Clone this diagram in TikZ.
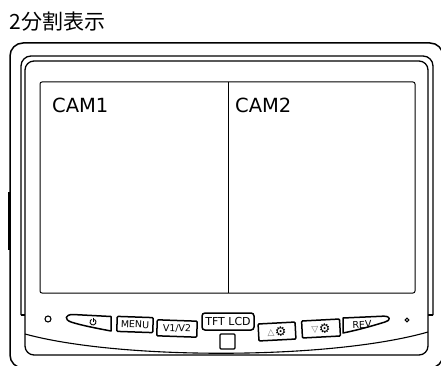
\documentclass[tikz,border=0pt]{standalone}
\usepackage{fontspec}
\setmainfont{DejaVu Sans}
\newfontfamily\jpfont{Noto Sans CJK JP}
\begin{document}
\begin{tikzpicture}[x=1pt,y=-1pt,
  frame/.style={line width=1.3pt, line join=round},
  btn/.style={draw, line width=1.5pt, rounded corners=1pt, inner sep=0pt,
    font=\fontsize{9.5}{9.5}\selectfont},
  lbl/.style={inner sep=0pt},
  camtxt/.style={inner sep=0pt, anchor=base west, font=\fontsize{19.5}{19.5}\selectfont}]
\useasboundingbox (0,0) rectangle (441,366);
\clip (0,0) rectangle (441,366);
% title
\node[lbl, anchor=west, font=\jpfont\fontsize{21}{21}\selectfont] (title) at (9.5,21.5) {2分割表示};
% outer body
\draw[frame, line width=1.5pt, rounded corners=13pt] (10,43) rectangle (443,368);
\draw[line width=2.6pt] (9,192) -- (9,250);
% back layer of bezel
\draw[frame, rounded corners=10pt] (21,315) -- (21,56) -- (433,56) -- (433,315);
\draw[frame] (21,315) -- (25,315);
\draw[frame] (433,315) -- (428,315);
% bezel front
\draw[frame, fill=white, rounded corners=9pt] (25,61) rectangle (428,355);
% screen
\draw[line width=1pt, rounded corners=2pt] (40,82) rectangle (415,293);
\draw[line width=1pt] (228,82) -- (228,293);
\node[camtxt] (cam1) at (52,112.5) {CAM1};
\node[camtxt] (cam2) at (235,112.5) {CAM2};
% lower curve of bezel
\draw[line width=1.1pt] (25,334) .. controls (120,360) and (330,360) .. (428,332);
% leds
\draw[line width=1.1pt] (48,319) circle[radius=3];
\draw[line width=1.1pt] (407,320) circle[radius=1.8];
% power button
\draw[line width=1.5pt, line join=round] (111,316.5) -- (111,331)
  .. controls (95,328) and (80,325) .. (71,322)
  .. controls (64,319.5) and (65,314.5) .. (73,314.5) -- cycle;
\draw[line width=0.9pt] (94.5,319.4) arc (-60:240:3);
\draw[line width=0.9pt] (93,317.5) -- (93,322);
% buttons
\node[btn, minimum width=36pt, minimum height=15pt, rotate=-2] (menu) at (135,324.5) {MENU};
\node[btn, minimum width=40pt, minimum height=16pt, rotate=-2] (v1v2) at (177,328.5) {V1/V2};
\node[btn, minimum width=52pt, minimum height=17pt, rounded corners=3pt,
  font=\fontsize{11}{11}\selectfont] (tft) at (228,321.5) {TFT LCD};
\draw[line width=1.3pt, rounded corners=1pt] (220,334) rectangle (235,349);
\node[btn, minimum width=37pt, minimum height=17pt, rotate=3] (up) at (277,331.5)
  {{\color{black!55}\fontsize{9}{9}\selectfont △}\hspace{0.5pt}\raisebox{-0.5pt}{\fontsize{13}{13}\selectfont ⚙}};
\node[btn, minimum width=38pt, minimum height=17pt, rotate=3] (down) at (321,328.5)
  {{\color{black!55}\fontsize{9}{9}\selectfont ▽}\hspace{0.5pt}\raisebox{-0.5pt}{\fontsize{13}{13}\selectfont ⚙}};
% REV button
\draw[line width=1.5pt, line join=round] (343,318) -- (383,316.2)
  .. controls (391,315.8) and (391,320.5) .. (385,322)
  .. controls (372,326) and (358,330) .. (343,333) -- cycle;
\node[lbl, font=\fontsize{9.5}{9.5}\selectfont, rotate=2] (rev) at (362,324.5) {REV};
\end{tikzpicture}
\end{document}
